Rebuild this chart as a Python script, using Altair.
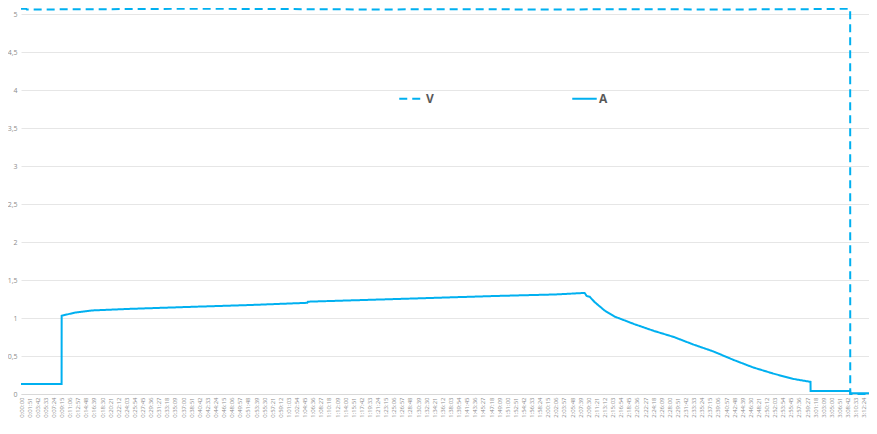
import altair as alt
import pandas as pd

# ---- data (time as H:MM:SS, values) ----
A_TIME = ["0:00:00", "0:09:16", "0:09:17", "0:12:13", "0:16:17", "0:24:39", "0:40:29",
          "0:51:47", "1:05:21", "1:05:30", "1:25:43", "1:48:20", "2:01:53", "2:08:40",
          "2:09:08", "2:09:50", "2:10:56", "2:13:12", "2:15:28", "2:19:59", "2:24:30",
          "2:29:02", "2:33:33", "2:38:04", "2:42:36", "2:47:07", "2:51:39", "2:56:10",
          "3:00:14", "3:00:15", "3:09:17", "3:09:18", "3:13:35"]
A_VAL = [0.13, 0.13, 1.03, 1.07, 1.10, 1.12, 1.15,
         1.17, 1.20, 1.215, 1.25, 1.29, 1.31, 1.33,
         1.29, 1.28, 1.21, 1.10, 1.02, 0.92, 0.83,
         0.75, 0.65, 0.56, 0.45, 0.35, 0.27, 0.20,
         0.16, 0.04, 0.04, 0.01, 0.01]

V_TIME = ["0:00:00", "0:01:10", "0:01:20", "0:40:00", "1:05:00", "1:20:00", "1:40:00",
          "2:00:00", "2:20:00", "2:40:00", "3:00:00", "3:09:17", "3:09:18", "3:13:35"]
V_VAL = [5.07, 5.07, 5.06, 5.07, 5.065, 5.06, 5.065,
         5.06, 5.065, 5.06, 5.065, 5.07, 0.0, 0.0]

SERIES = ["V", "A"]
Y_TICKS = [0, 0.5, 1, 1.5, 2, 2.5, 3, 3.5, 4, 4.5, 5]
LABEL_STEP_S = 111          # one tick label every 0:01:51
LAST_LABEL_S = 11544        # 3:12:24
X_END_S = 11615             # end of the plotted period


def to_s(s):
    h, m, sec = s.split(":")
    return int(h) * 3600 + int(m) * 60 + int(sec)


rows = []
for t, v in zip(V_TIME, V_VAL):
    rows.append({"series": "V", "t": to_s(t), "value": v})
for t, v in zip(A_TIME, A_VAL):
    rows.append({"series": "A", "t": to_s(t), "value": v})
df = pd.DataFrame(rows)

x_ticks = list(range(0, LAST_LABEL_S + 1, LABEL_STEP_S))

label_expr = ("floor(datum.value/3600) + ':' + "
              "(floor((datum.value%3600)/60) < 10 ? '0' : '') + floor((datum.value%3600)/60) + ':' + "
              "(datum.value%60 < 10 ? '0' : '') + (datum.value%60)")

BLUE = "#00B0F0"
FONT = "Open Sans"

chart = alt.Chart(df).mark_line(color=BLUE, strokeWidth=2, clip=False).encode(
    x=alt.X("t:Q",
            scale=alt.Scale(domain=[0, X_END_S], nice=False, zero=False),
            axis=alt.Axis(values=x_ticks, labelExpr=label_expr, labelAngle=-90,
                          labelFontSize=6, labelColor="#8c8c8c", labelOverlap=False,
                          labelPadding=3, ticks=False, grid=False, domain=True,
                          domainColor="#d9d9d9", title=None, labelFont=FONT)),
    y=alt.Y("value:Q",
            scale=alt.Scale(domain=[0, 5.08], nice=False),
            axis=alt.Axis(values=Y_TICKS,
                          labelExpr="replace(format(datum.value, '~g'), '.', ',')",
                          labelFontSize=7, labelColor="#8c8c8c", ticks=False,
                          domain=False, grid=True, gridColor="#e6e6e6", title=None,
                          labelPadding=4, labelFont=FONT)),
    strokeDash=alt.StrokeDash("series:N",
                              scale=alt.Scale(domain=SERIES, range=[[8, 5], [1, 0]]),
                              legend=alt.Legend(title=None, orient="none", legendX=377,
                                                legendY=77, direction="horizontal",
                                                columns=2, columnPadding=134,
                                                symbolType="stroke", symbolSize=600,
                                                symbolStrokeColor=BLUE,
                                                symbolStrokeWidth=2,
                                                labelFontSize=12, labelFontWeight="bold",
                                                labelColor="#595959", labelOffset=1,
                                                labelFont=FONT)),
    detail="series:N",
    order="t:Q",
).properties(
    width=848, height=386,
    autosize=alt.AutoSizeParams(type="none"),
    padding={"left": 13, "top": 0, "right": 0, "bottom": 32},
).configure_view(stroke=None)

chart.save("out.html", embed_options={"renderer": "svg", "actions": False})
